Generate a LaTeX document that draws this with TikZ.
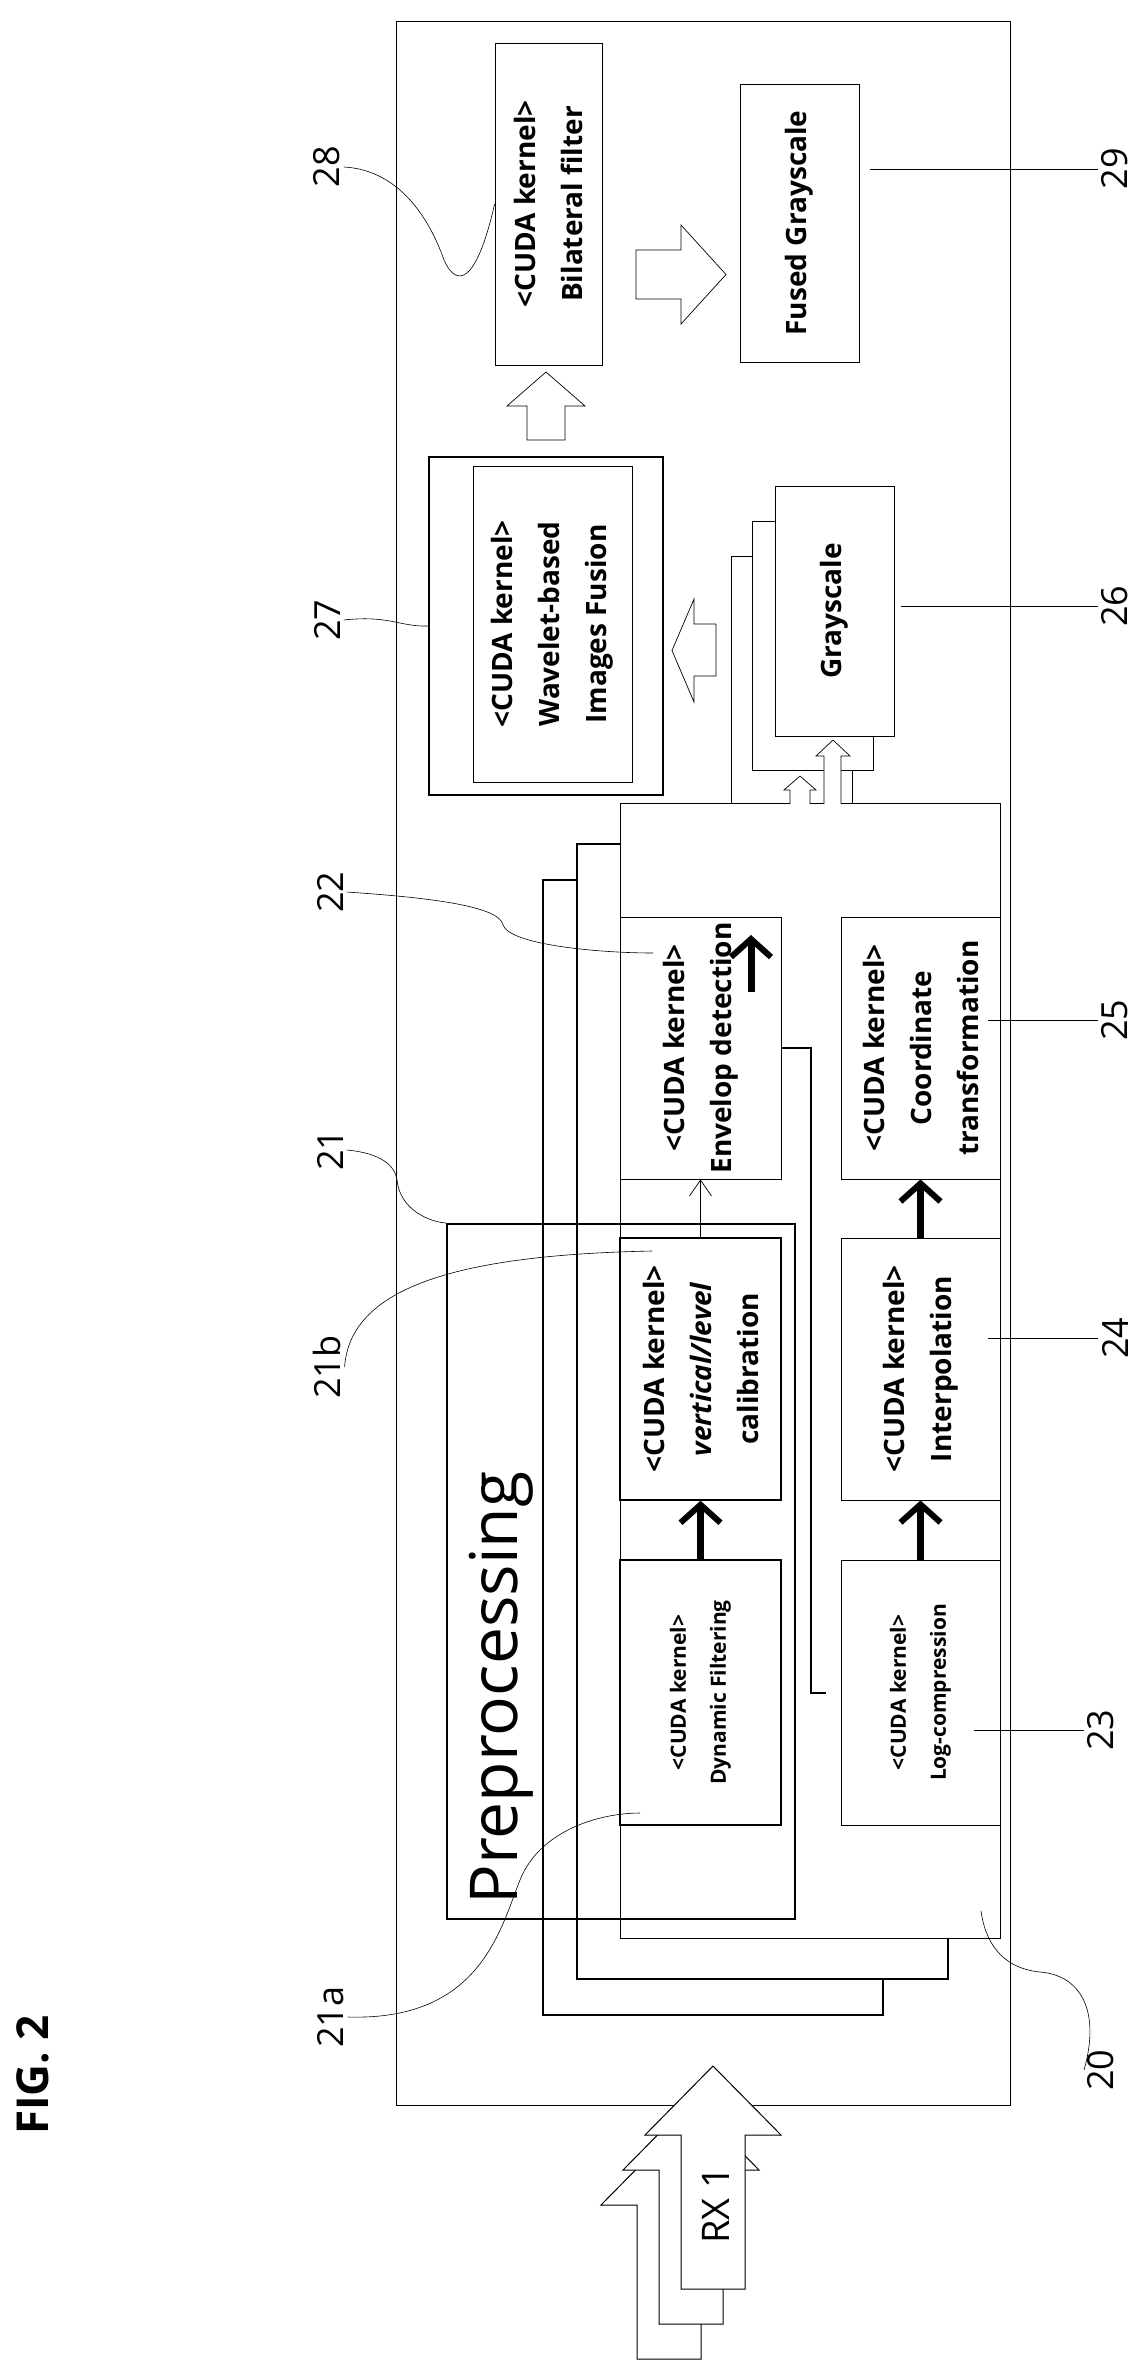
\documentclass[tikz,border=0pt]{standalone}
\usepackage{fontspec}
\setmainfont{Open Sans}
\usetikzlibrary{arrows.meta}
\begin{document}
\begin{tikzpicture}[x=1pt,y=-1pt,
  line width=0.8pt,
  box/.style={draw,fill=white,rotate=90,align=center,inner sep=0pt,font=\fontsize{28}{47}\selectfont\bfseries},
  sbox/.style={box,font=\fontsize{21}{40}\selectfont\bfseries},
  plain/.style={draw,fill=white,rotate=90,inner sep=0pt},
  lab/.style={rotate=90,font=\fontsize{36}{40}\selectfont},
  thk/.style={line width=7pt,-{Straight Barb[length=18pt,width=40pt,line width=6pt]}},
  thn/.style={line width=0.7pt,-{Straight Barb[length=16pt,width=22pt]}},
  blk/.style={draw,fill=white,line width=0.7pt}]
\useasboundingbox (0,0) rectangle (1140,2375);
% outer frame
\node[plain,minimum width=2084,minimum height=614] (outer) at (703,1063) {};
% top row
\node[box,minimum width=322,minimum height=107] (bil) at (548.5,204) {<CUDA kernel>\\Bilateral filter};
\node[box,minimum width=278,minimum height=119] (fused) at (799.5,223) {Fused Grayscale};
\node[plain,minimum width=338,minimum height=234,line width=1.4pt] (wavo) at (546,626) {};
\node[box,minimum width=316,minimum height=159] (wav) at (552.5,624) {<CUDA kernel>\\Wavelet-based\\Images Fusion};
\node[plain,minimum width=249,minimum height=121] (gs3) at (791.5,680.5) {};
\node[plain,minimum width=249,minimum height=121] (gs2) at (812.5,645.5) {};
\node[box,minimum width=250,minimum height=119] (gs1) at (834.5,611) {Grayscale};
% main stack
\node[plain,minimum width=1135,minimum height=340,line width=1.2pt] (m3) at (713,1447.5) {};
\node[plain,minimum width=1135,minimum height=371,line width=1.2pt] (m2) at (762.5,1411.5) {};
\node[plain,minimum width=1135,minimum height=380] (m1) at (810,1370.5) {};
% kernels
\node[box,minimum width=262,minimum height=161] (env) at (700.5,1048) {<CUDA kernel>\\Envelop detection};
\node[box,minimum width=262,minimum height=159] (coord) at (920.5,1048) {<CUDA kernel>\\Coordinate\\transformation};
\node[box,minimum width=262,minimum height=161,line width=1.4pt] (cal) at (700.5,1369) {<CUDA kernel>\\\textit{vertical/level}\\calibration};
\node[box,minimum width=262,minimum height=159] (interp) at (920.5,1369) {<CUDA kernel>\\Interpolation};
\node[sbox,minimum width=265,minimum height=161,line width=1.4pt] (dyn) at (700.5,1692.5) {<CUDA kernel>\\Dynamic Filtering};
\node[sbox,minimum width=265,minimum height=159] (log) at (920.5,1692.5) {<CUDA kernel>\\Log-compression};
% preprocessing
\node[draw,rotate=90,minimum width=695,minimum height=348,line width=2pt,inner sep=0pt] (prep) at (621,1571.5) {};
\node[rotate=90,anchor=base west,font=\fontsize{66}{70}\selectfont,inner sep=0pt] (preptext) at (517,1905) {Preprocessing};
% internal arrows
\draw[thk] (dyn.east) -- (cal.west);
\draw[thk] (log.east) -- (interp.west);
\draw[thk] (interp.east) -- (coord.west);
\draw[thn] (cal.east) -- (env.west);
\coordinate (ea) at (751,992); \coordinate (eb) at (751,935);
\draw[thk] (ea) -- (eb);
\coordinate (lc1) at (811,1048); \coordinate (lc2) at (811,1693); \coordinate (lc3) at (826,1693);
\draw[line width=2.2pt] (env.south |- lc1) -- (lc1) -- (lc2) -- (lc3);
% block arrows
\draw[blk] (636,250) -- (681,250) -- (681,225) -- (726,274.5) -- (681,324) -- (681,299) -- (636,299) -- cycle;
\draw[blk] (527,440) -- (527,406) -- (507,406) -- (546,372) -- (585,406) -- (565,406) -- (565,440) -- cycle;
\draw[blk] (716,624) -- (694,624) -- (694,599) -- (672,650.5) -- (694,702) -- (694,676) -- (716,676) -- cycle;
\draw[blk] (790,804) -- (790,790) -- (784,790) -- (800,776) -- (816,790) -- (810,790) -- (810,804);
\draw[blk] (824,804) -- (824,756) -- (816,756) -- (833,740) -- (850,756) -- (841,756) -- (841,804);
% RX arrows
\foreach \dx/\dy in {-44/70,-22/35,0/0}{
  \draw[blk,line width=1pt] (681+\dx,2289+\dy) -- (681+\dx,2135+\dy) -- (645+\dx,2135+\dy) -- (713+\dx,2066+\dy) -- (781+\dx,2135+\dy) -- (745+\dx,2135+\dy) -- (745+\dx,2289+\dy) -- cycle;}
\node[rotate=90,font=\fontsize{38}{40}\selectfont] (rx) at (716,2205) {RX 1};
% labels
\node[lab] (l28) at (327,167) {28};
\node[lab] (l27) at (327,620) {27};
\node[lab] (l22) at (330,892) {22};
\node[lab] (l21) at (330,1150) {21};
\node[lab] (l21b) at (327,1367) {21b};
\node[lab] (l21a) at (331,2017) {21a};
\node[lab] (l29) at (1115,169) {29};
\node[lab] (l26) at (1115,606) {26};
\node[lab] (l25) at (1115,1020) {25};
\node[lab] (l24) at (1115,1338) {24};
\node[lab] (l23) at (1101,1730) {23};
\node[lab] (l20) at (1101,2070) {20};
\node[rotate=90,font=\fontsize{44}{48}\selectfont\bfseries] (fig) at (33,2075) {FIG. 2};
\draw[line width=0.6pt] (l28.south) .. controls (400,170) and (430,220) .. (444,260) .. controls (455,285) and (475,290) .. (bil.north);
\draw[line width=0.6pt] (l27.south) .. controls (390,615) and (400,627) .. (wavo.north);
\draw[line width=0.6pt] (l22.south) .. controls (420,897) and (500,905) .. (503,925) .. controls (510,945) and (600,953) .. (653,953);
\draw[line width=0.6pt] (l21.south) .. controls (380,1153) and (395,1165) .. (397,1180) .. controls (400,1210) and (430,1222) .. (prep.north east);
\draw[line width=0.6pt] (l21b.south) .. controls (350,1290) and (450,1255) .. (652,1251);
\draw[line width=0.6pt] (l21a.south) .. controls (480,2021) and (500,1930) .. (520,1880) .. controls (540,1830) and (600,1813) .. (640,1813);
\draw[line width=0.6pt] (l20.north) .. controls (1101,2010) and (1080,1975) .. (1040,1972) .. controls (1000,1968) and (985,1940) .. (981,1911);
\coordinate (c29) at (870,169); \draw[line width=0.6pt] (c29) -- (l29.north);
\coordinate (c26) at (901,606); \draw[line width=0.6pt] (c26) -- (l26.north);
\coordinate (c25) at (988,1020); \draw[line width=0.6pt] (c25) -- (l25.north);
\coordinate (c24) at (988,1338); \draw[line width=0.6pt] (c24) -- (l24.north);
\coordinate (c23) at (974,1730); \draw[line width=0.6pt] (c23) -- (l23.north);
\end{tikzpicture}
\end{document}
